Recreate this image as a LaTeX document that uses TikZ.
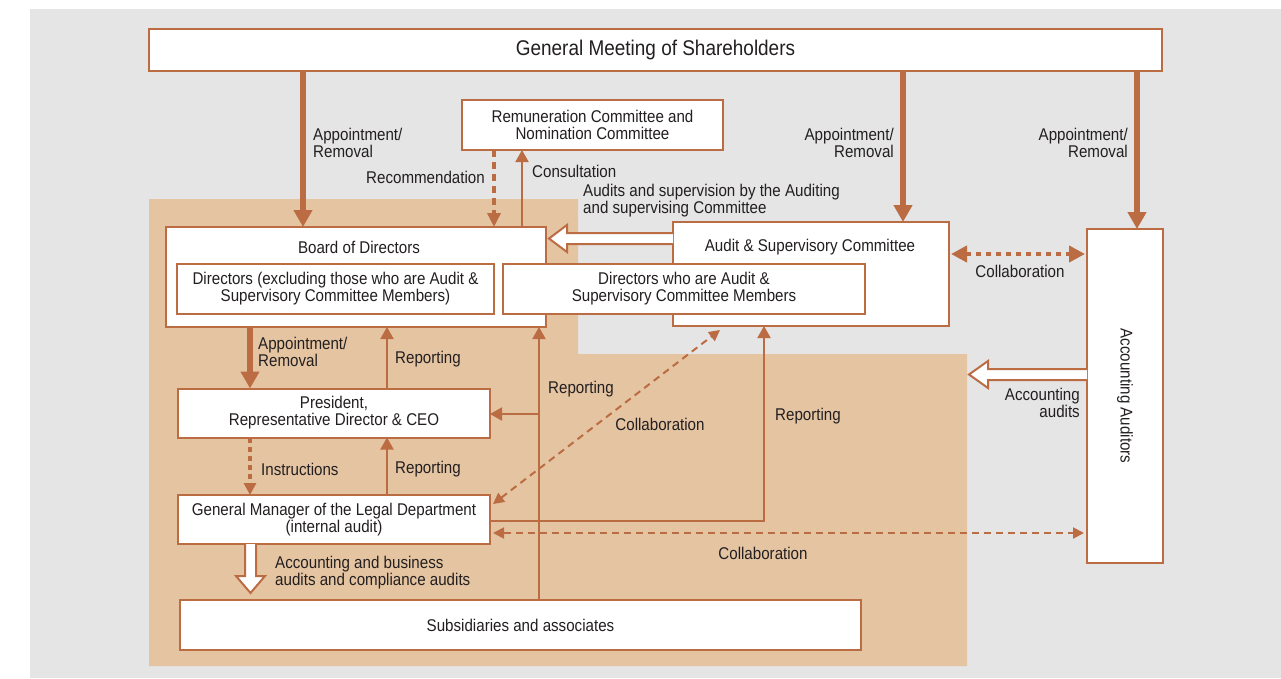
\documentclass[tikz,border=0pt]{standalone}
\usepackage{fontspec}
\setmainfont{Liberation Sans}[FakeStretch=0.89]
\usetikzlibrary{arrows.meta,calc}
\definecolor{brn}{HTML}{BC6C43}
\definecolor{tanbg}{HTML}{E5C4A2}
\definecolor{bggray}{HTML}{E5E5E5}
\definecolor{txt}{HTML}{231F20}
\begin{document}
\begin{tikzpicture}[x=1pt,y=-1pt,
  every node/.style={font=\fontsize{17}{17}\selectfont, text=txt},
  box/.style={draw=brn, line width=2pt, fill=white, inner sep=2pt, outer sep=0pt, align=center},
  lbl/.style={inner sep=0pt, align=left},
  thickarr/.style={draw=brn, line width=6pt, -{Triangle[length=17pt,width=18pt]}},
  thinarr/.style={draw=brn, line width=2pt, -{Triangle[length=12pt,width=13pt]}},
  dashthick/.style={draw=brn, line width=4pt, dash pattern=on 7pt off 5pt, -{Triangle[length=14pt,width=13pt]}},
  dotdbl/.style={draw=brn, line width=4pt, dash pattern=on 5pt off 5pt, {Triangle[length=16pt,width=16pt]}-{Triangle[length=16pt,width=16pt]}},
  thindash/.style={draw=brn, line width=2pt, dash pattern=on 7pt off 5pt, {Triangle[length=11pt,width=11pt]}-{Triangle[length=11pt,width=11pt]}},
  hollow/.style={draw=brn, line width=2pt, fill=white, line join=miter}
]
\useasboundingbox (0,0) rectangle (1281,678);
\fill[white] (0,0) rectangle (1281,678);
\fill[bggray] (30,9) rectangle (1281,678);
\fill[tanbg] (149,199) -- (578,199) -- (578,354) -- (967,354) -- (967,666) -- (149,666) -- cycle;

% boxes
\node[box, minimum width=1013, minimum height=42, font=\fontsize{21.3}{22}\selectfont] (gms) at (655.5,50) {General Meeting of Shareholders};
\node[box, minimum width=261, minimum height=50] (rnc) at (592.5,125) {Remuneration Committee and\\Nomination Committee};
\node[box, minimum width=380, minimum height=100] (bod) at (356,277) {};
\node[lbl] (bodt) at (359,247) {Board of Directors};
\node[box, minimum width=317, minimum height=50] (dex) at (335.5,289) {Directors (excluding those who are Audit \&\\Supervisory Committee Members)};
\node[box, minimum width=276, minimum height=104] (asc) at (811,274) {};
\node[lbl] (asct) at (810,247) {Audit \& Supervisory Committee};
\node[box, minimum width=362, minimum height=50] (dwa) at (684,289) {Directors who are Audit \&\\Supervisory Committee Members};
\node[box, minimum width=76, minimum height=334] (aud) at (1125,396) {};
\node[lbl, rotate=-90] (audt) at (aud.center) {Accounting Auditors};
\node[box, minimum width=312, minimum height=49] (pres) at (334,413) {President,\\Representative Director \& CEO};
\node[box, minimum width=312, minimum height=49] (gml) at (334,519.5) {General Manager of the Legal Department\\(internal audit)};
\node[box, minimum width=681, minimum height=50] (sub) at (520.5,625) {Subsidiaries and associates};

% connectors
\draw[thickarr] (303,0 |- gms.south) -- (303,0 |- bod.north);
\draw[thickarr] (903,0 |- gms.south) -- (903,0 |- asc.north);
\draw[thickarr] (1137,0 |- gms.south) -- (1137,0 |- aud.north);
\draw[dashthick] (494,0 |- rnc.south) -- (494,0 |- bod.north);
\draw[thinarr] (522,0 |- bod.north) -- (522,0 |- rnc.south);
\filldraw[hollow] (asc.west |- 0,233) -- (567,233) -- (567,225) -- (549,238.5) -- (567,252) -- (567,244) -- (asc.west |- 0,244);
\draw[dotdbl] ($(asc.east |- 0,254)+(2,0)$) -- ($(aud.west |- 0,254)+(-2,0)$);
\filldraw[hollow] (aud.west |- 0,369) -- (988,369) -- (988,361) -- (969,374.5) -- (988,388) -- (988,380) -- (aud.west |- 0,380);
\draw[thickarr] (250,0 |- bod.south) -- (250,0 |- pres.north);
\draw[thinarr] (387,0 |- pres.north) -- (387,0 |- bod.south);
\draw[thinarr] (539,0 |- sub.north) -- (539,0 |- bod.south);
\coordinate (j) at (539,414);
\draw[thinarr] (j) -- (pres.east |- j);
\draw[dashthick, dash pattern=on 5pt off 4pt, -{Triangle[length=12pt,width=12pt]}] (250,0 |- pres.south) -- (250,0 |- gml.north);
\draw[thinarr] (387,0 |- gml.north) -- (387,0 |- pres.south);
\draw[thindash] ($(gml.north east)+(3,9)$) -- ($(asc.south west)+(47,4)$);
\draw[thinarr] (gml.east |- 0,521) -| (764,0 |- asc.south);
\draw[thindash] ($(gml.east |- 0,533)+(3,0)$) -- ($(aud.west |- 0,533)+(-3,0)$);
\filldraw[hollow] (245,0 |- gml.south) -- (245,576) -- (236,576) -- (250.5,593) -- (265,576) -- (256,576) -- (256,0 |- gml.south);

% labels
\node[lbl, anchor=west] (l1) at (313,143) {Appointment/\\Removal};
\node[lbl, anchor=east, align=right] (l2) at (894,143) {Appointment/\\Removal};
\node[lbl, anchor=east, align=right] (l3) at (1128,143) {Appointment/\\Removal};
\node[lbl, anchor=east] (l4) at (485,177) {Recommendation};
\node[lbl, anchor=west] (l5) at (532,171) {Consultation};
\node[lbl, anchor=west] (l6) at (583,201) {Audits and supervision by the Auditing\\and supervising Committee};
\node[lbl] (l7) at (1020,271) {Collaboration};
\node[lbl, anchor=east, align=right] (l8) at (1080,402.5) {Accounting\\audits};
\node[lbl, anchor=west] (l9) at (258,351.5) {Appointment/\\Removal};
\node[lbl, anchor=west] (l10) at (395,359) {Reporting};
\node[lbl, anchor=west] (l11) at (548,389) {Reporting};
\node[lbl] (l12) at (660,424) {Collaboration};
\node[lbl, anchor=west] (l13) at (775,416) {Reporting};
\node[lbl, anchor=west] (l14) at (261,469) {Instructions};
\node[lbl, anchor=west] (l15) at (395,469) {Reporting};
\node[lbl] (l16) at (763,553) {Collaboration};
\node[lbl, anchor=west] (l17) at (275,573) {Accounting and business\\audits and compliance audits};
\end{tikzpicture}
\end{document}
